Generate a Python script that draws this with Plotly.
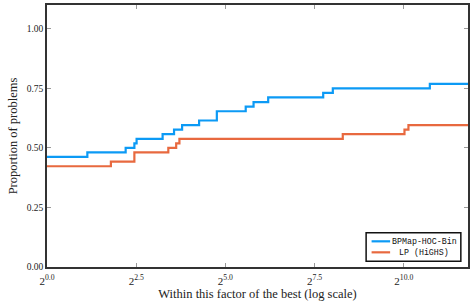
import plotly.graph_objects as go
import math

# Performance profile data (factor of best, proportion of problems)
bp_x = [1, 2.19, 4.61, 5.46, 5.70, 9.45, 11.8, 13.8, 19.2, 27.1, 47.5, 55.3, 73.5, 214, 258, 1699, 3566]
bp_y = [0.462, 0.481, 0.500, 0.519, 0.538, 0.558, 0.577, 0.596, 0.615, 0.654, 0.673, 0.692, 0.712, 0.731, 0.750, 0.769, 0.769]

lp_x = [1, 3.46, 5.46, 10.56, 12.3, 13.1, 313, 1038, 1121, 3566]
lp_y = [0.423, 0.442, 0.481, 0.500, 0.519, 0.538, 0.558, 0.577, 0.596, 0.596]

series_names = ["BPMap-HOC-Bin", "LP (HiGHS)"]
series_colors = ["#0C9AF5", "#E8693F"]

x_tick_exps = ["0.0", "2.5", "5.0", "7.5", "10.0"]
x_tick_vals = [1, 5.657, 32, 181.02, 1024]
y_tick_vals = [0.0, 0.25, 0.5, 0.75, 1.0]
y_tick_text = ["0.00", "0.25", "0.50", "0.75", "1.00"]

serif = "Liberation Serif"
mono = "Liberation Mono"

fig = go.Figure()
for xs, ys, name, col in zip([bp_x, lp_x], [bp_y, lp_y], series_names, series_colors):
    fig.add_trace(go.Scatter(x=xs, y=ys, mode="lines", line_shape="hv",
                             line=dict(color=col, width=2.2), name=name,
                             showlegend=False))

# Compact legend box (matplotlib-style) drawn in plot-area coordinates
leg_rows_y = [0.098, 0.056]
fig.add_shape(type="rect", xref="paper", yref="paper",
              x0=0.758, x1=0.983, y0=0.022, y1=0.131,
              line=dict(color="#111", width=1.5), fillcolor="white", layer="above")
for ry, name, col in zip(leg_rows_y, series_names, series_colors):
    fig.add_shape(type="line", xref="paper", yref="paper",
                  x0=0.771, x1=0.815, y0=ry, y1=ry,
                  line=dict(color=col, width=2.2), layer="above")
    fig.add_annotation(xref="paper", yref="paper", x=0.896, y=ry,
                       text=name, showarrow=False, xanchor="center", yanchor="middle",
                       font=dict(family=mono, size=8.3, color="#111"))

fig.update_layout(
    width=474, height=308,
    margin=dict(l=47, r=6, t=5, b=41, autoexpand=False),
    paper_bgcolor="white", plot_bgcolor="white",
    font=dict(family=serif, size=10, color="#222"),
    showlegend=False,
)
fig.update_xaxes(
    type="log", range=[0, 11.8 * math.log10(2)],
    tickvals=x_tick_vals,
    ticktext=["2<sup>%s</sup>" % e for e in x_tick_exps],
    ticks="inside", ticklen=4, tickcolor="#999", tickwidth=1,
    ticklabelstandoff=3,
    showline=True, linecolor="#333", linewidth=1.5, mirror="ticks",
    showgrid=False, zeroline=False, automargin=True,
    tickfont=dict(family=serif, size=11, color="#222"),
    title=dict(text="Within this factor of the best (log scale)",
               font=dict(family=serif, size=12.5, color="#222"), standoff=2),
)
fig.update_yaxes(
    range=[0, 1.1],
    tickvals=y_tick_vals, ticktext=y_tick_text,
    ticks="inside", ticklen=4, tickcolor="#999", tickwidth=1,
    showline=True, linecolor="#333", linewidth=1.5, mirror="ticks",
    showgrid=False, zeroline=False, automargin=True,
    tickfont=dict(family=serif, size=9.5, color="#222"),
    title=dict(text="Proportion of problems",
               font=dict(family=serif, size=12.5, color="#222"), standoff=6),
)

fig.write_html("out.html", config={"displayModeBar": False},
               post_script="document.body.style.margin='0';document.body.style.padding='0';")
